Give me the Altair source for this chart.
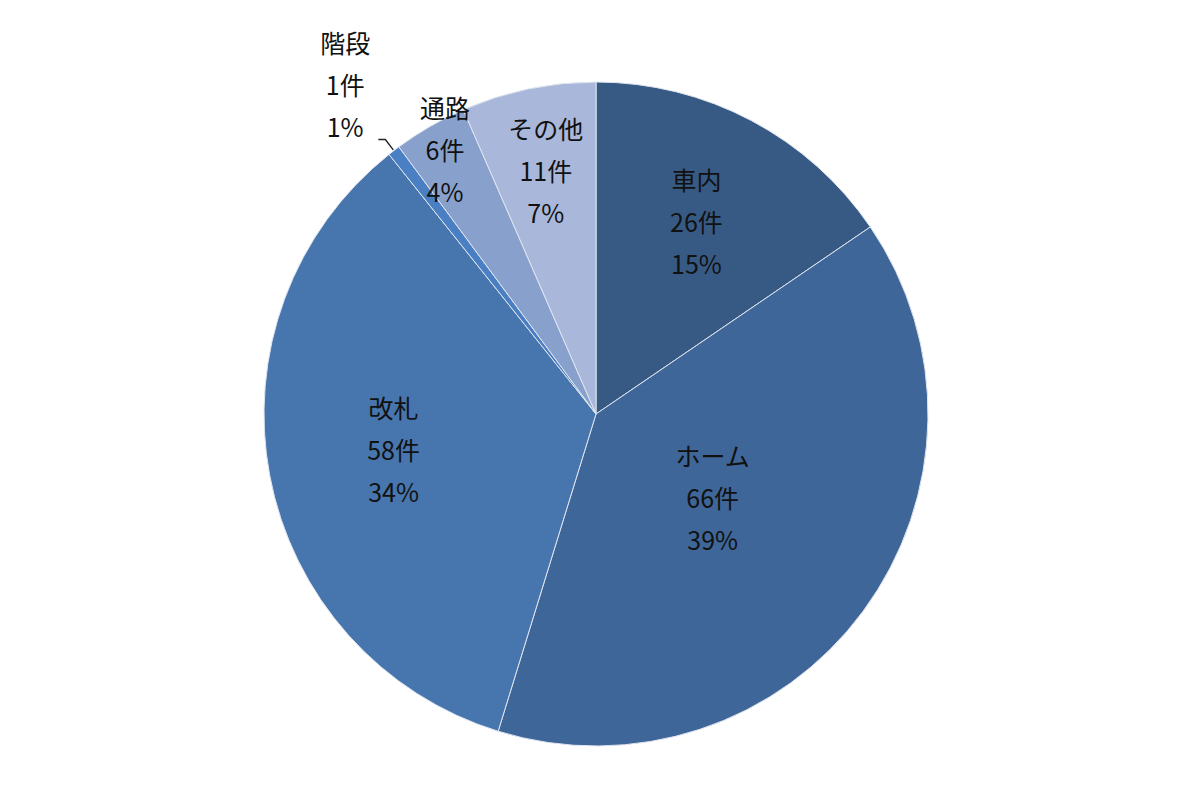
import math
import altair as alt
import pandas as pd

categories = ["車内", "ホーム", "改札", "階段", "通路", "その他"]
counts = [26, 66, 58, 1, 6, 11]
percents = ["15%", "39%", "34%", "1%", "4%", "7%"]
colors = ["#375a85", "#3f6699", "#4776ae", "#4a7fc3", "#88a1cc", "#a9b8da"]
label_radius = [215, 145, 206, 412, 302, 246]

R = 332
CX, CY = 588, 385  # centre of plot area (width/2, height/2)
total = sum(counts)

mids = []
acc = 0
for n in counts:
    mids.append(acc + n / 2)
    acc += n

df = pd.DataFrame({
    "cat": categories,
    "n": counts,
    "mid": mids,
    "order": list(range(len(categories))),
    "label": [f"{c}\n{n}件\n{p}" for c, n, p in zip(categories, counts, percents)],
    "lr": label_radius,
})

color_scale = alt.Scale(domain=categories, range=colors)

pie = alt.Chart(df).mark_arc(outerRadius=R, stroke="#dfe5ef", strokeWidth=1).encode(
    theta=alt.Theta("n:Q", stack=True),
    order=alt.Order("order:Q"),
    color=alt.Color("cat:N", scale=color_scale, legend=None),
)

text = alt.Chart(df).mark_text(
    font="Noto Sans CJK JP", fontSize=25, color="#111111",
    lineBreak="\n", lineHeight=42, baseline="middle", align="center", dy=-42
).encode(
    theta=alt.Theta("mid:Q", stack=None,
                    scale=alt.Scale(domain=[0, total], range=[0, 2 * math.pi])),
    radius=alt.Radius("lr:Q", scale=None),
    text="label:N",
)

# leader line for 階段
mid = mids[3] / total * 2 * math.pi
p_edge = (CX + (R + 1) * math.sin(mid), CY - (R + 1) * math.cos(mid))
p_elbow = (CX + (R + 14) * math.sin(mid), CY - (R + 14) * math.cos(mid))
p_end = (p_elbow[0] - 7, p_elbow[1])
lead = pd.DataFrame({
    "x": [p_end[0], p_elbow[0], p_edge[0]],
    "y": [p_end[1], p_elbow[1], p_edge[1]],
    "i": [0, 1, 2],
})
leader = alt.Chart(lead).mark_line(color="#222222", strokeWidth=1.4).encode(
    x=alt.X("x:Q", scale=None, axis=None),
    y=alt.Y("y:Q", scale=None, axis=None),
    order="i:Q",
)

chart = alt.layer(pie, text, leader).properties(
    width=1176, height=770,
    padding={"top": 21, "left": 0, "right": 0, "bottom": 0},
    autosize=alt.AutoSizeParams(type="none"),
    background="white",
).configure_view(stroke=None)

chart.save("out.html", embed_options={"renderer": "svg", "actions": False})
